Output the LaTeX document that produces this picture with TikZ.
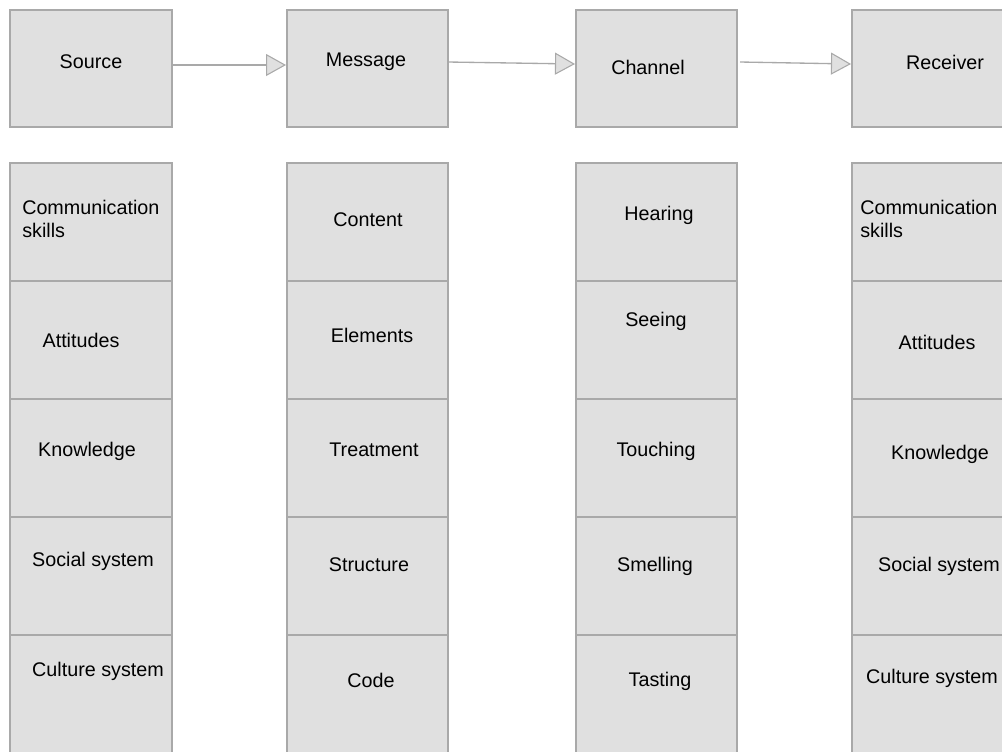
\documentclass[tikz,border=0pt]{standalone}
\usepackage{fontspec}
\setmainfont{Liberation Sans}
\usetikzlibrary{arrows.meta}
\definecolor{boxfill}{HTML}{E0E0E0}
\definecolor{boxline}{HTML}{A9A9A9}
\tikzset{
  box/.style={draw=boxline, fill=boxfill, line width=1.5pt, rectangle, inner sep=0pt, outer sep=0pt},
  lbl/.style={font=\fontsize{14.8}{17.3}\selectfont, inner sep=0pt, text=black},
  conn/.style={draw=boxline, line width=1pt, -{Triangle[length=15pt,width=16.5pt,fill=boxfill,line width=0.8pt]}},
}
\newcommand{\mybox}[5]{% name, x1, y1, x2, y2
  \node[box, minimum width={(#4-#2)*0.75pt}, minimum height={(#5-#3)*0.75pt}, anchor=north west] (#1) at (#2,#3) {};
}
\begin{document}
\begin{tikzpicture}[x=0.75pt,y=-0.75pt]
\useasboundingbox (0,0) rectangle (1002,751);
\clip (0,0) rectangle (1002,751);
% top boxes
\mybox{src}{10}{10}{172}{127}
\mybox{msg}{287}{10}{448}{127}
\mybox{chn}{576}{10}{737}{127}
\mybox{rcv}{852}{10}{1014}{127}
\node[lbl] (tsrc) at (91,62) {Source};
\node[lbl] (tmsg) at (366,62) {Message};
\node[lbl] (tchn) at (648,67) {Channel};
\node[lbl] (trcv) at (945,62) {Receiver};
% arrows
\coordinate (a1s) at (172,65); \coordinate (a1e) at (286,65);
\coordinate (a2s) at (448,62); \coordinate (a2e) at (575,64);
\coordinate (a3s) at (740,62); \coordinate (a3e) at (851,64);
\draw[conn] (a1s) -- (a1e);
\draw[conn] (a2s) -- (a2e);
\draw[conn] (a3s) -- (a3e);
% columns
\foreach \c/\xa/\xb in {s/10/172, m/287/448, c/576/737, r/852/1014}{
  \foreach \r/\ya/\yb in {1/163/281, 2/281/399, 3/399/517, 4/517/635, 5/635/760}{
    \mybox{\c\r}{\xa}{\ya}{\xb}{\yb}
  }
}
% source column
\node[lbl, align=left, anchor=west] (ts1) at (22,218.5) {Communication\\skills};
\node[lbl] (ts2) at (81,340) {Attitudes};
\node[lbl] (ts3) at (87,451) {Knowledge};
\node[lbl] (ts4) at (93,561) {Social system};
\node[lbl] (ts5) at (98,671) {Culture system};
% message column
\node[lbl] (tm1) at (368,220) {Content};
\node[lbl] (tm2) at (372,335) {Elements};
\node[lbl] (tm3) at (374,450) {Treatment};
\node[lbl] (tm4) at (369,565) {Structure};
\node[lbl] (tm5) at (371,680) {Code};
% channel column
\node[lbl] (tc1) at (659,215) {Hearing};
\node[lbl] (tc2) at (656,321) {Seeing};
\node[lbl] (tc3) at (656,451) {Touching};
\node[lbl] (tc4) at (655,566) {Smelling};
\node[lbl] (tc5) at (660,681) {Tasting};
% receiver column
\node[lbl, align=left, anchor=west] (tr1) at (860,218.5) {Communication\\skills};
\node[lbl] (tr2) at (937,342) {Attitudes};
\node[lbl] (tr3) at (940,454) {Knowledge};
\node[lbl] (tr4) at (939,566) {Social system};
\node[lbl] (tr5) at (932,678) {Culture system};
\end{tikzpicture}
\end{document}
